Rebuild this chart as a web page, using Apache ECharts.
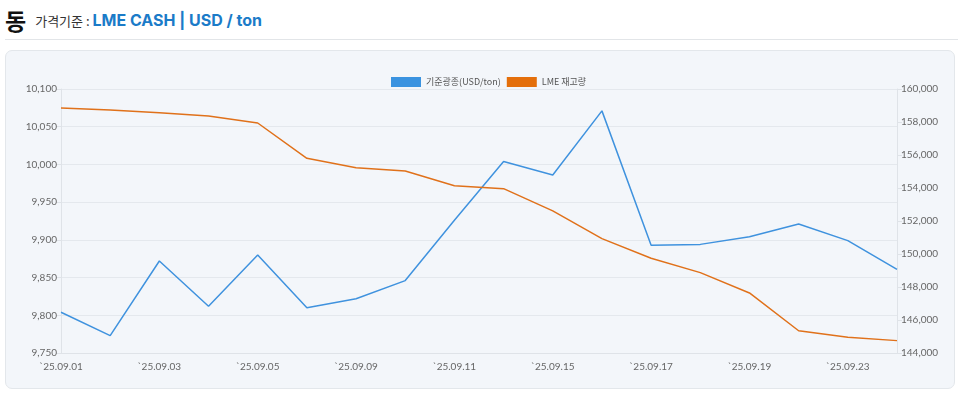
<!DOCTYPE html>
<html><head><meta charset="utf-8">
<script src="https://cdn.jsdelivr.net/npm/echarts@6/dist/echarts.min.js"></script>
<style>
html,body{margin:0;padding:0;width:960px;height:393px;background:#fff;font-family:"Noto Sans CJK KR","Noto Sans",sans-serif;overflow:hidden;}
#hdr{position:absolute;left:5px;top:3px;height:34px;white-space:nowrap;}
#hdr .big{font-size:23px;font-weight:bold;color:#111;vertical-align:middle;}
#hdr .lbl{font-size:13px;color:#333;margin-left:9px;vertical-align:middle;}
#hdr .val{font-size:16px;font-weight:bold;color:#1b7bc8;font-family:Inter,"Noto Sans","Noto Sans CJK KR",sans-serif;vertical-align:middle;}
#rule{position:absolute;left:5px;right:2px;top:39px;height:1px;background:#e2e5e8;}
#panel{position:absolute;left:5px;top:50px;width:950px;height:339px;background:#f3f6fa;border:1px solid #e3e7eb;border-radius:7px;box-sizing:border-box;}
#chart{position:absolute;left:0;top:0;width:960px;height:393px;}
</style></head>
<body>
<div id="hdr"><span class="big">동</span><span class="lbl">가격기준 : </span><span class="val">LME CASH | USD / ton</span></div>
<div id="rule"></div>
<div id="panel"></div>
<div id="chart"></div>
<script>
const categories = ["`25.09.01","`25.09.02","`25.09.03","`25.09.04","`25.09.05","`25.09.08","`25.09.09","`25.09.10","`25.09.11","`25.09.12","`25.09.15","`25.09.16","`25.09.17","`25.09.18","`25.09.19","`25.09.22","`25.09.23","`25.09.24"];
const priceValues = [9804,9773,9872,9812,9880,9810,9822,9846,9926,10004,9986,10071,9893,9894,9904,9921,9899,9861];
const stockValues = [158850,158725,158565,158365,157940,155800,155230,155030,154140,153960,152610,150930,149740,148870,147640,145350,144950,144750];
const leftTicks = {min:9750, max:10100, interval:50};
const rightTicks = {min:144000, max:160000, interval:2000};
const seriesNames = ["기준광종(USD/ton)","LME 재고량"];

const chart = echarts.init(document.getElementById('chart'), null, {renderer:'canvas'});
const axisLabelStyle = {color:'#666', fontSize:10, fontFamily:'Lato, "Noto Sans", sans-serif'};
chart.setOption({
  backgroundColor:'transparent',
  animation:false,
  legend:{
    top:72, left:386, itemWidth:30, itemHeight:10, itemGap:6,
    icon:'rect',
    textStyle:{color:'#555', fontSize:9, fontFamily:'"Noto Sans CJK KR", sans-serif'},
    data:seriesNames
  },
  grid:{left:61, right:63, top:89, bottom:40, containLabel:false},
  xAxis:{
    type:'category', data:categories, boundaryGap:false,
    axisLine:{show:true, lineStyle:{color:'#dfe3e8'}},
    axisTick:{show:false},
    axisLabel:{...axisLabelStyle, interval:1, margin:9}
  },
  yAxis:[
    {type:'value', min:leftTicks.min, max:leftTicks.max, interval:leftTicks.interval, position:'left',
     axisLine:{show:true, lineStyle:{color:'#dfe3e8'}},
     axisTick:{show:true, length:5, lineStyle:{color:'#dfe3e8'}},
     axisLabel:{...axisLabelStyle, margin:4, formatter:v=>v.toLocaleString('en-US')},
     splitLine:{show:true, lineStyle:{color:'#e4e8ed'}}},
    {type:'value', min:rightTicks.min, max:rightTicks.max, interval:rightTicks.interval, position:'right',
     axisLine:{show:true, lineStyle:{color:'#dfe3e8'}},
     axisTick:{show:true, length:5, lineStyle:{color:'#dfe3e8'}},
     axisLabel:{...axisLabelStyle, margin:4, formatter:v=>v.toLocaleString('en-US')},
     splitLine:{show:false}}
  ],
  series:[
    {name:seriesNames[0], type:'line', yAxisIndex:0, data:priceValues, showSymbol:false, symbol:'none',
     lineStyle:{color:'#3f92de', width:1.5}, itemStyle:{color:'#3a93e0'}},
    {name:seriesNames[1], type:'line', yAxisIndex:1, data:stockValues, showSymbol:false, symbol:'none',
     lineStyle:{color:'#e0711a', width:1.5}, itemStyle:{color:'#e46f0b'}}
  ]
});
</script>
</body></html>
